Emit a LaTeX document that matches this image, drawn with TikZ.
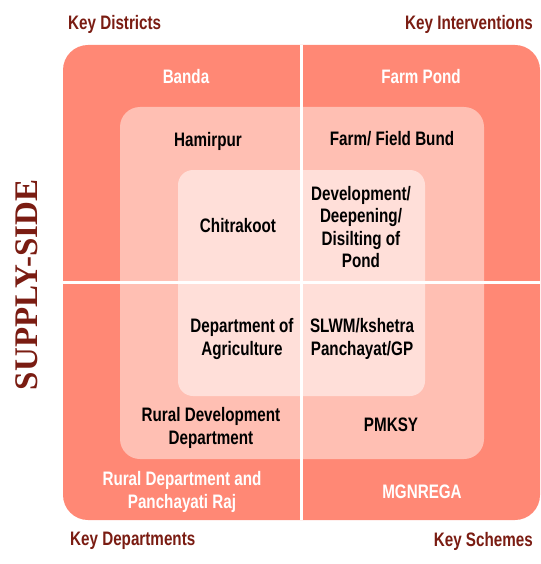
\documentclass[tikz,border=0pt]{standalone}
\usepackage{fontspec}
\usepackage{tikz}
\usetikzlibrary{positioning,calc}
\newfontfamily\condfont[FakeStretch=0.78]{Liberation Sans}
\newfontfamily\sideserif{Liberation Serif}
\definecolor{outercolor}{RGB}{255,136,117}
\definecolor{middlecolor}{RGB}{255,191,179}
\definecolor{innercolor}{RGB}{255,223,217}
\definecolor{headcolor}{RGB}{122,28,18}

\begin{document}
\begin{tikzpicture}[
    x=1pt, y=-1pt,
    layer/.style={rectangle, inner sep=0pt, draw=none},
    head/.style={font=\condfont\bfseries\fontsize{19.5}{22}\selectfont, text=headcolor, inner sep=0pt},
    item/.style={font=\condfont\bfseries\fontsize{19.5}{22.5}\selectfont, align=center, inner sep=0pt},
    divider/.style={draw=white, line width=3pt}
]
\useasboundingbox (0,0) rectangle (540,564);

% nested layers
\node[layer, fill=outercolor, rounded corners=25pt, minimum width=477pt, minimum height=475pt] (outer) at (301.5,282.5) {};
\node[layer, fill=middlecolor, rounded corners=20pt, minimum width=364pt, minimum height=352pt] (middle) at (302,283) {};
\node[layer, fill=innercolor, rounded corners=15pt, minimum width=247pt, minimum height=226pt] (inner) at (301.5,283) {};

\draw[divider] (outer.north) -- (outer.south);
\draw[divider] (outer.west) -- (outer.east);

% corner headings
\node[head, anchor=west] (districts) at (68,24) {Key Districts};
\node[head, anchor=east] (interventions) at (533,24) {Key Interventions};
\node[head, anchor=west] (departments) at (70,541) {Key Departments};
\node[head, anchor=east] (schemes) at (533,541) {Key Schemes};

\node[font=\sideserif\bfseries\fontsize{33}{33}\selectfont, text=headcolor, rotate=90, inner sep=0pt] (side) at (27,285) {SUPPLY-SIDE};

% outer ring
\node[item, text=white] (banda) at (186,77) {Banda};
\node[item, text=white] (farmpond) at (421,77) {Farm Pond};
\node[item, text=white] (rdpr) at (182,492) {Rural Department and\\Panchayati Raj};
\node[item, text=white] (mgnrega) at (422,492) {MGNREGA};

% middle ring
\node[item] (hamirpur) at (208,141) {Hamirpur};
\node[item] (bund) at (392,139) {Farm/ Field Bund};
\node[item] (rdd) at (211,428) {Rural Development\\Department};
\node[item] (pmksy) at (391,425) {PMKSY};

% inner ring
\node[item] (chitrakoot) at (238,226) {Chitrakoot};
\node[item] (pond) at (361,227) {Development/\\Deepening/\\Disilting of\\Pond};
\node[item] (doa) at (242,339) {Department of\\Agriculture};
\node[item] (slwm) at (362,339) {SLWM/kshetra\\Panchayat/GP};

\end{tikzpicture}
\end{document}
